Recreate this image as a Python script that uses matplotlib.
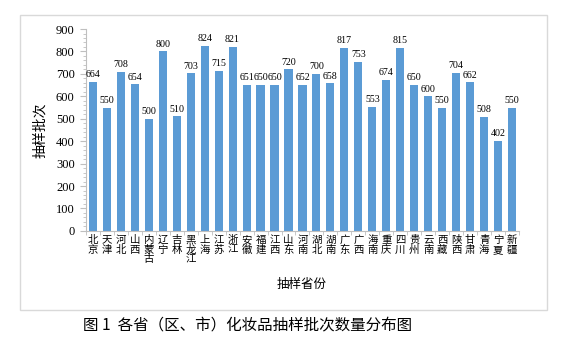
import matplotlib.pyplot as plt
from matplotlib.patches import Rectangle
from matplotlib.ticker import MultipleLocator

plt.rcParams['font.family'] = ['Noto Sans CJK SC', 'DejaVu Sans']

provinces = ['北京', '天津', '河北', '山西', '内蒙古', '辽宁', '吉林', '黑龙江',
             '上海', '江苏', '浙江', '安徽', '福建', '江西', '山东', '河南',
             '湖北', '湖南', '广东', '广西', '海南', '重庆', '四川', '贵州',
             '云南', '西藏', '陕西', '甘肃', '青海', '宁夏', '新疆']
batches = [664, 550, 708, 654, 500, 800, 510, 703, 824, 715, 821, 651, 650, 650,
           720, 652, 700, 658, 817, 753, 553, 674, 815, 650, 600, 550, 704, 662,
           508, 402, 550]

fig = plt.figure(figsize=(5.8, 3.63), dpi=100)
ax = fig.add_axes([0.148, 0.364, 0.747, 0.556])

x = range(len(provinces))
bars = ax.bar(x, batches, width=0.58, color='#5B9BD5')
for xi, v in zip(x, batches):
    ax.text(xi, v + 12, str(v), ha='center', va='bottom', fontsize=7.2,
            family='Liberation Serif')

ax.set_xlim(-0.5, len(provinces) - 0.5)
ax.set_ylim(0, 900)
ax.yaxis.set_major_locator(MultipleLocator(100))
ax.yaxis.set_minor_locator(MultipleLocator(20))
for lab in ax.get_yticklabels():
    lab.set_family('Liberation Serif')
    lab.set_fontsize(9)

ax.set_xticks(list(x))
ax.set_xticklabels(['\n'.join(p) for p in provinces], fontsize=7.5,
                   linespacing=0.95)
ax.set_xticks([i - 0.5 for i in range(len(provinces) + 1)], minor=True)
ax.tick_params(axis='x', which='major', length=0, pad=3)
ax.tick_params(axis='x', which='minor', length=3, color='#BFBFBF')
ax.tick_params(axis='y', which='major', length=4, color='#BFBFBF', pad=4)
ax.tick_params(axis='y', which='minor', length=2, color='#BFBFBF')

for s in ['top', 'right']:
    ax.spines[s].set_visible(False)
ax.spines['left'].set_color('#BFBFBF')
ax.spines['bottom'].set_color('#BFBFBF')

ax.set_ylabel('抽样批次', fontsize=10, labelpad=6)
fig.text(0.52, 0.215, '抽样省份', ha='center', va='center', fontsize=9)

fig.patches.append(Rectangle((0.0345, 0.146), 0.909, 0.813,
                             transform=fig.transFigure, fill=False,
                             edgecolor='#D9D9D9', linewidth=1))

fig.text(0.426, 0.105, '图 1  各省（区、市）化妆品抽样批次数量分布图',
         ha='center', va='center', fontsize=11.2)

fig.savefig('out.png', dpi=100)
